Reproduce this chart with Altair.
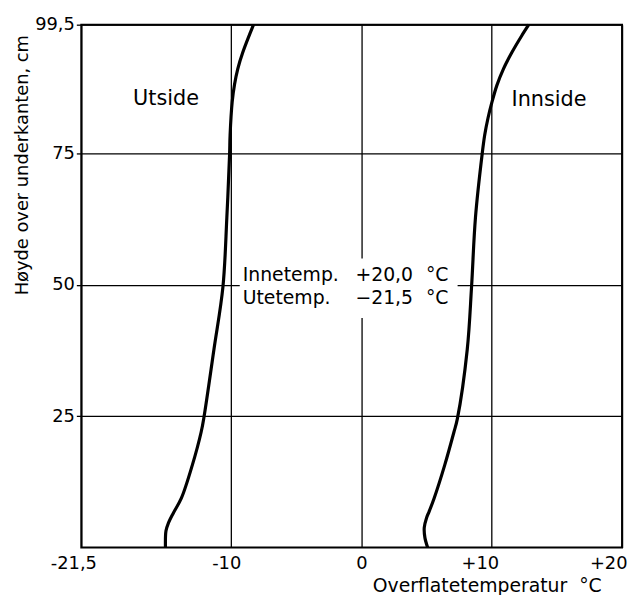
import altair as alt
import pandas as pd

# Utside curve: height above lower edge (cm) and surface temperature (°C)
ut_h = [0, 3.2, 4.7, 6.6, 9.4, 15.6, 22.0, 24.9, 37.7, 49.6, 62.8, 74.8, 78.5, 84.8, 88.1, 91.1, 94.2, 99.5]
ut_t = [-15.04, -15.0, -14.81, -14.43, -13.82, -12.99, -12.30, -12.08, -11.32, -10.63, -10.33, -10.12,
        -10.08, -9.92, -9.74, -9.49, -9.11, -8.28]

# Innside curve
in_h = [0, 1.9, 3.8, 5.7, 6.9, 9.4, 15.7, 22.0, 24.5, 37.7, 49.6, 62.8, 74.8, 78.5, 81.7, 84.8, 88.0,
        91.1, 94.2, 97.4, 99.5]
in_t = [5.08, 4.87, 4.82, 5.0, 5.2, 5.58, 6.39, 7.10, 7.36, 8.12, 8.45, 8.75, 9.26, 9.46, 9.71, 10.02,
        10.4, 10.9, 11.54, 12.3, 12.84]

x_ticks = [-21.5, -10, 0, 10, 20]
y_ticks = [25, 50, 75, 99.5]

# Annotations
side_labels = ["Utside", "Innside"]
side_x = [-15.0, 14.4]
side_y = [85.4, 85.2]

block_col1 = ["Innetemp.", "Utetemp."]
block_col2 = ["+20,0", "\u221221,5"]
block_col3 = ["°C", "°C"]
block_y = [51.8, 47.5]
block_x1, block_x2, block_x3 = -9.11, 3.96, 4.95
box_x = [-9.34, 7.38]
box_y = [43.7, 55.0]

FONT = "DejaVu Sans"

curves = pd.DataFrame({
    "h": ut_h + in_h,
    "t": ut_t + in_t,
    "side": ["Utside"] * len(ut_h) + ["Innside"] * len(in_h),
})

xscale = alt.Scale(domain=[-21.5, 20], nice=False, zero=False)
yscale = alt.Scale(domain=[0, 99.5], nice=False, zero=False)

x_label_expr = ("datum.value == -21.5 ? '-21,5' : datum.value > 0 ? '+' + datum.value : "
                "datum.value < 0 ? '-' + abs(datum.value) : datum.label")
y_label_expr = "datum.value == 99.5 ? '99,5' : datum.label"

x_axis = alt.Axis(
    values=x_ticks, labelExpr=x_label_expr, title="Overflatetemperatur\u00a0 °C",
    grid=True, gridColor="black", gridWidth=1.3, gridOpacity=1,
    domain=False, ticks=False, labelPadding=7, labelFlush=False, labelOverlap=False,
    labelFont=FONT, labelFontSize=18, labelColor="black",
    labelOffset={"condition": [
        {"test": "datum.value == -21.5", "value": -8},
        {"test": "datum.value == -10", "value": -5},
        {"test": "datum.value == 0", "value": 0},
        {"test": "datum.value == 10", "value": -12},
    ], "value": -14},
    titleFont=FONT, titleFontSize=19, titleFontWeight="normal", titleColor="black",
    titleX=525, titleY=38, titleAlign="right", titleBaseline="middle",
)
y_axis = alt.Axis(
    values=y_ticks, labelExpr=y_label_expr, title="Høyde over underkanten, cm",
    grid=True, gridColor="black", gridWidth=1.3, gridOpacity=1,
    domain=False, ticks=True, tickSize=5, tickColor="black", tickWidth=1.3, labelPadding=2,
    labelFlush=False, labelOverlap=False,
    labelFont=FONT, labelFontSize=18, labelColor="black",
    titleFont=FONT, titleFontSize=18, titleFontWeight="normal", titleColor="black",
    titleX=-59, titleY=10, titleAlign="right", titleBaseline="middle", titleAngle=270,
)

base_x = alt.X("t:Q", scale=xscale, axis=x_axis)
base_y = alt.Y("h:Q", scale=yscale, axis=y_axis)

lines = alt.Chart(curves).mark_line(color="black", strokeWidth=3.2, interpolate="catmull-rom").encode(
    x=base_x, y=base_y, detail="side:N", order="h:Q"
)

box_df = pd.DataFrame({"x1": [box_x[0]], "x2": [box_x[1]], "y1": [box_y[0]], "y2": [box_y[1]]})
box = alt.Chart(box_df).mark_rect(color="white").encode(
    x=alt.X("x1:Q", scale=xscale), x2="x2:Q",
    y=alt.Y("y1:Q", scale=yscale), y2="y2:Q",
)

side_df = pd.DataFrame({"label": side_labels, "x": side_x, "y": side_y})
sides = alt.Chart(side_df).mark_text(font=FONT, fontSize=21, color="black", align="center",
                                     baseline="middle").encode(
    x=alt.X("x:Q", scale=xscale), y=alt.Y("y:Q", scale=yscale), text="label:N"
)

block_df = pd.DataFrame({"c1": block_col1, "c2": block_col2, "c3": block_col3, "y": block_y,
                         "x1": [block_x1] * 2, "x2": [block_x2] * 2, "x3": [block_x3] * 2})
t1 = alt.Chart(block_df).mark_text(font=FONT, fontSize=19, color="black", align="left",
                                   baseline="middle").encode(
    x=alt.X("x1:Q", scale=xscale), y=alt.Y("y:Q", scale=yscale), text="c1:N")
t2 = alt.Chart(block_df).mark_text(font=FONT, fontSize=19, color="black", align="right",
                                   baseline="middle").encode(
    x=alt.X("x2:Q", scale=xscale), y=alt.Y("y:Q", scale=yscale), text="c2:N")
t3 = alt.Chart(block_df).mark_text(font=FONT, fontSize=19, color="black", align="left",
                                   baseline="middle").encode(
    x=alt.X("x3:Q", scale=xscale), y=alt.Y("y:Q", scale=yscale), text="c3:N")

chart = alt.layer(lines, box, sides, t1, t2, t3).properties(
    width=546, height=528,
    autosize=alt.AutoSizeParams(type="none"),
    padding={"left": 74, "top": 14, "right": 5, "bottom": 45},
    background="white",
).configure_view(stroke="black", strokeWidth=2)

chart.save("out.html", embed_options={"renderer": "svg", "actions": False})
